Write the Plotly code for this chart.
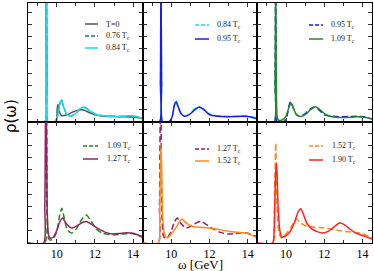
import plotly.graph_objects as go

# ---------------- data (bottom-row units) ----------------
W_T0 = [8.5, 9.38, 9.43, 9.46, 9.49, 9.54, 9.98, 10.02, 10.06, 10.12, 10.25, 10.5, 10.8, 11.1, 11.35, 11.7, 12.0, 12.5, 13.0, 13.5, 14.0, 14.5]
R_T0 = [0, 0, 6, 25, 6, 0, 0, 1.6, 2.7, 1.8, 0.95, 1.05, 1.45, 1.8, 1.85, 1.45, 1.1, 0.88, 0.82, 0.8, 0.75, 0.55]

W_076 = [8.5, 9.38, 9.43, 9.46, 9.49, 9.54, 9.9, 10.05, 10.15, 10.24, 10.35, 10.5, 10.7, 10.95, 11.2, 11.4, 11.6, 11.85, 12.1, 12.4, 12.8, 13.2, 13.6, 13.9, 14.2, 14.5]
R_076 = [0, 0, 6, 25, 6, 0, 0.05, 0.9, 2.65, 3.4, 2.45, 1.3, 0.88, 1.2, 1.92, 2.25, 2.0, 1.45, 1.1, 0.95, 0.87, 0.85, 0.9, 0.92, 0.8, 0.5]

W_084 = [8.5, 9.38, 9.43, 9.46, 9.49, 9.54, 9.9, 10.05, 10.15, 10.24, 10.35, 10.5, 10.7, 10.95, 11.2, 11.4, 11.6, 11.85, 12.1, 12.4, 12.8, 13.2, 13.6, 13.9, 14.2, 14.5]
R_084 = [0, 0, 6, 25, 6, 0, 0.05, 0.9, 2.6, 3.35, 2.4, 1.3, 0.88, 1.2, 1.95, 2.28, 2.0, 1.45, 1.1, 0.95, 0.87, 0.85, 0.9, 0.93, 0.8, 0.5]

W_095 = [8.5, 9.38, 9.43, 9.46, 9.49, 9.54, 9.9, 10.05, 10.15, 10.25, 10.36, 10.5, 10.68, 10.95, 11.25, 11.47, 11.7, 12.0, 12.4, 12.86, 13.3, 13.73, 14.1, 14.5]
R_095 = [0, 0, 6, 25, 6, 0, 0.08, 0.85, 2.4, 3.05, 2.3, 1.3, 0.86, 1.15, 1.9, 2.28, 1.9, 1.1, 0.88, 0.8, 0.83, 0.87, 0.78, 0.46]

W_109 = [8.5, 9.38, 9.43, 9.46, 9.49, 9.53, 9.58, 9.66, 9.8, 10.0, 10.15, 10.27, 10.4, 10.55, 10.78, 11.0, 11.3, 11.55, 11.8, 12.1, 12.4, 12.9, 13.4, 13.8, 14.1, 14.5]
R_109 = [0, 0, 6, 25, 6, 1.0, 0.35, 0.24, 0.3, 0.9, 2.2, 2.85, 2.0, 1.1, 0.82, 1.1, 1.9, 2.3, 1.8, 1.1, 0.8, 0.68, 0.72, 0.8, 0.72, 0.45]

W_127 = [8.5, 9.32, 9.38, 9.44, 9.5, 9.56, 9.65, 9.8, 10.0, 10.15, 10.31, 10.5, 10.78, 11.1, 11.4, 11.56, 11.8, 12.26, 12.6, 12.95, 13.3, 13.65, 14.0, 14.35, 14.5]
R_127 = [0, 0, 3, 16, 3, 0.8, 0.4, 0.45, 1.0, 1.7, 2.05, 1.6, 1.23, 1.45, 1.72, 1.77, 1.55, 1.09, 0.85, 0.73, 0.78, 0.85, 0.8, 0.6, 0.55]

W_152 = [8.5, 9.32, 9.39, 9.46, 9.54, 9.63, 9.76, 9.9, 10.1, 10.3, 10.45, 10.56, 10.7, 10.9, 11.1, 11.5, 12.0, 12.5, 13.04, 13.5, 13.9, 14.2, 14.5]
R_152 = [0, 0, 2.5, 8.2, 2.5, 0.8, 0.41, 0.55, 0.95, 1.4, 1.8, 1.97, 1.75, 1.5, 1.36, 1.3, 1.23, 1.1, 0.95, 0.88, 0.82, 0.65, 0.41]

W_190 = [8.5, 9.3, 9.38, 9.46, 9.51, 9.58, 9.68, 9.78, 9.95, 10.2, 10.45, 10.62, 10.77, 10.9, 11.1, 11.4, 11.87, 12.2, 12.5, 12.79, 13.0, 13.3, 13.6, 13.87, 14.2, 14.5]
R_190 = [0, 0, 1.2, 5.8, 6.5, 3.2, 1.0, 0.49, 0.55, 0.9, 1.7, 2.5, 2.81, 2.4, 1.6, 1.1, 0.82, 0.95, 1.3, 1.64, 1.55, 1.2, 0.85, 0.68, 0.5, 0.33]

LABELS = {"T0": "T=0", "076": "0.76 T<sub>c</sub>", "084": "0.84 T<sub>c</sub>", "095": "0.95 T<sub>c</sub>",
          "109": "1.09 T<sub>c</sub>", "127": "1.27 T<sub>c</sub>", "152": "1.52 T<sub>c</sub>", "190": "1.90 T<sub>c</sub>"}
COLORS = {"T0": "#555555", "076": "#237a82", "084": "#18dde6", "095": "#1c1ce8",
          "109": "#218a21", "127": "#981f62", "152": "#ff8c1a", "190": "#ff2222"}
DATA = {"T0": (W_T0, R_T0), "076": (W_076, R_076), "084": (W_084, R_084), "095": (W_095, R_095),
        "109": (W_109, R_109), "127": (W_127, R_127), "152": (W_152, R_152), "190": (W_190, R_190)}

# panel contents: (key, dashed)
PANELS = [
    [("T0", False), ("076", True), ("084", False)],
    [("084", True), ("095", False)],
    [("095", True), ("109", False)],
    [("109", True), ("127", False)],
    [("127", True), ("152", False)],
    [("152", True), ("190", False)],
]

# ---------------- layout geometry ----------------
W, H = 374, 271
ML, MR, MT, MB = 28, 2, 3, 28
PW, PH = W - ML - MR, H - MT - MB
TOP_SCALE = 1.85
ROW_SPLIT = 121 / PH


def px(xp):
    return (xp - ML) / PW


def py(yp):
    return (H - MB - yp) / PH


fig = go.Figure()
xdoms = [[0, 1 / 3], [1 / 3, 2 / 3], [2 / 3, 1]]
ydoms = [[ROW_SPLIT, 1], [0, ROW_SPLIT]]
DASH = "6px,3px"

for i, panel in enumerate(PANELS):
    n = i + 1
    xa = "x" if n == 1 else f"x{n}"
    ya = "y" if n == 1 else f"y{n}"
    for key, dashed in panel:
        w, r = DATA[key]
        fig.add_trace(go.Scatter(x=w, y=r, mode="lines", xaxis=xa, yaxis=ya, showlegend=False,
                                 line=dict(color=COLORS[key], width=1.5, dash=DASH if dashed else "solid",
                                           shape="spline", smoothing=0.6)))
    row, col = divmod(i, 3)
    top = row == 0
    axkw = dict(showline=True, linecolor="black", linewidth=1, mirror="ticks", ticks="inside",
                ticklen=4, tickcolor="#333333", showgrid=False, zeroline=False)
    fig.layout[("xaxis" if n == 1 else f"xaxis{n}")] = dict(
        domain=xdoms[col], anchor=ya, range=[8.5, 14.5], tick0=10, dtick=2,
        minor=dict(ticks="inside", ticklen=3, dtick=1, tick0=9, tickcolor="#333333", showgrid=False),
        showticklabels=not top, tickfont=dict(family="Liberation Serif", size=12, color="black"), **axkw)
    fig.layout[("yaxis" if n == 1 else f"yaxis{n}")] = dict(
        domain=ydoms[row], anchor=xa,
        range=[0, 9.75 * TOP_SCALE] if top else [0, 9.92],
        tick0=0, dtick=TOP_SCALE if top else 1, showticklabels=False, **axkw)

# ---------------- legends (drawn as text + sample lines) ----------------
LEG_POS = [  # (line x0, line x1, text x, [row y's]) in pixels
    (85, 98, 104, [24, 36, 48]),
    (195, 209, 215, [25, 39]),
    (309, 323, 329, [25, 39]),
    (83, 98, 105, [146, 159]),
    (195, 209, 215, [149, 161]),
    (309, 323, 330, [146, 160]),
]
annotations = []
shapes = []
for panel, (lx0, lx1, tx, ys) in zip(PANELS, LEG_POS):
    for (key, dashed), yy in zip(panel, ys):
        shapes.append(dict(type="line", xref="paper", yref="paper", x0=px(lx0), x1=px(lx1), y0=py(yy), y1=py(yy),
                           line=dict(color=COLORS[key], width=1.5, dash="4px,2px" if dashed else "solid")))
        annotations.append(dict(text=LABELS[key], xref="paper", yref="paper", x=px(tx), y=py(yy),
                                xanchor="left", yanchor="middle", showarrow=False,
                                font=dict(family="Liberation Serif", size=8, color="#222222")))

annotations.append(dict(text="ω [GeV]", xref="paper", yref="paper", x=px(200), y=py(264),
                        xanchor="center", yanchor="middle", showarrow=False,
                        font=dict(family="Liberation Serif", size=13, color="black")))
annotations.append(dict(text="ρ(ω)", xref="paper", yref="paper", x=px(11), y=py(116), textangle=-90,
                        xanchor="center", yanchor="middle", showarrow=False,
                        font=dict(family="DejaVu Sans", size=15, color="black")))

fig.update_layout(width=W, height=H, margin=dict(l=ML, r=MR, t=MT, b=MB),
                  paper_bgcolor="white", plot_bgcolor="white",
                  annotations=annotations, shapes=shapes)

fig.write_html("out.html", config={"displayModeBar": False},
               post_script="document.body.style.margin='0';document.body.style.padding='0';")
